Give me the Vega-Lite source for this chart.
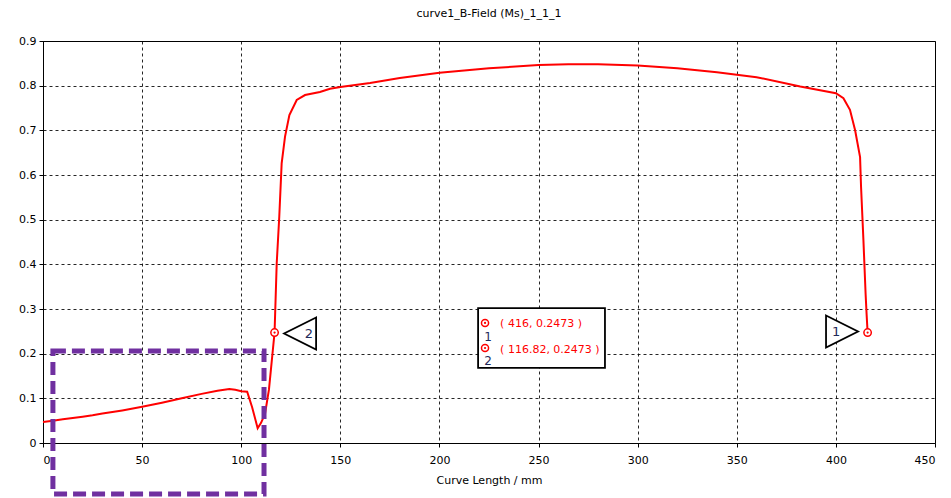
{
  "$schema": "https://vega.github.io/schema/vega-lite/v6.json",
  "autosize": "none",
  "width": 892,
  "height": 402,
  "padding": {"left": 43, "top": 41, "right": 16, "bottom": 55},
  "background": "white",
  "config": {
    "font": "DejaVu Sans",
    "view": {"stroke": "black", "strokeWidth": 1},
    "axis": {
      "domainColor": "black",
      "tickColor": "black",
      "labelColor": "black",
      "titleColor": "black",
      "labelFont": "DejaVu Sans",
      "titleFont": "DejaVu Sans",
      "labelFontSize": 11,
      "titleFontSize": 11,
      "titleFontWeight": "normal",
      "gridColor": "black",
      "gridDash": [3, 3],
      "gridOpacity": 0.85,
      "tickSize": 4
    },
    "title": {"font": "DejaVu Sans", "fontSize": 11, "fontWeight": "normal", "color": "black", "offset": 16}
  },
  "title": {"text": "curve1_B-Field (Ms)_1_1_1", "anchor": "middle"},
  "datasets": {
    "curve": [
      {"x": 0, "y": 0.047}, {"x": 5, "y": 0.05}, {"x": 10, "y": 0.053}, {"x": 20, "y": 0.059},
      {"x": 25, "y": 0.062}, {"x": 30, "y": 0.066}, {"x": 40, "y": 0.073}, {"x": 50, "y": 0.081},
      {"x": 60, "y": 0.09}, {"x": 70, "y": 0.1}, {"x": 80, "y": 0.11}, {"x": 88, "y": 0.117},
      {"x": 94, "y": 0.121}, {"x": 97, "y": 0.119}, {"x": 100, "y": 0.116}, {"x": 103, "y": 0.115},
      {"x": 105.5, "y": 0.08}, {"x": 108.3, "y": 0.033}, {"x": 110, "y": 0.045}, {"x": 112, "y": 0.065},
      {"x": 114, "y": 0.12}, {"x": 116.82, "y": 0.2473}, {"x": 117.9, "y": 0.402}, {"x": 119.2, "y": 0.507},
      {"x": 120.4, "y": 0.626}, {"x": 122.1, "y": 0.686}, {"x": 124.3, "y": 0.734}, {"x": 128, "y": 0.768},
      {"x": 132.2, "y": 0.779}, {"x": 139.7, "y": 0.786}, {"x": 144.8, "y": 0.793}, {"x": 150, "y": 0.797},
      {"x": 165, "y": 0.806}, {"x": 180, "y": 0.817}, {"x": 200, "y": 0.829}, {"x": 225, "y": 0.839},
      {"x": 250, "y": 0.846}, {"x": 265, "y": 0.848}, {"x": 280, "y": 0.848}, {"x": 300, "y": 0.845},
      {"x": 320, "y": 0.839}, {"x": 340, "y": 0.83}, {"x": 360, "y": 0.819}, {"x": 382, "y": 0.798},
      {"x": 400, "y": 0.783}, {"x": 403.8, "y": 0.772}, {"x": 407.1, "y": 0.746}, {"x": 409.7, "y": 0.7},
      {"x": 412.2, "y": 0.64}, {"x": 412.7, "y": 0.573}, {"x": 413.9, "y": 0.453}, {"x": 415, "y": 0.333},
      {"x": 415.5, "y": 0.288}, {"x": 416, "y": 0.2473}
    ],
    "markers": [
      {"x": 416, "y": 0.2473},
      {"x": 116.82, "y": 0.2473}
    ],
    "triangles": [
      {"x": 403.1, "y": 0.2496, "label": "1", "lx": 400.1, "shape": "M-1,-1L1,0L-1,1Z"},
      {"x": 129.7, "y": 0.245, "label": "2", "lx": 134.2, "shape": "M1,-1L-1,0L1,1Z"}
    ],
    "box": [{"x": 219.5, "x2": 283.5, "y": 0.302, "y2": 0.168}],
    "legend": [
      {"cx": 223, "cy": 0.2687, "tx": 230.6, "ty": 0.266, "sx": 224.5, "sy": 0.237, "text": "( 416, 0.2473 )", "sub": "1"},
      {"cx": 223, "cy": 0.2127, "tx": 230.6, "ty": 0.208, "sx": 224.5, "sy": 0.1836, "text": "( 116.82, 0.2473 )", "sub": "2"}
    ],
    "highlight": [{"x": 5, "x2": 111.5, "y": 0.206, "y2": -0.114}]
  },
  "layer": [
    {
      "data": {"name": "curve"},
      "mark": {"type": "line", "color": "#FF0000", "strokeWidth": 2, "clip": false},
      "encoding": {
        "x": {
          "field": "x", "type": "quantitative",
          "scale": {"domain": [0, 450], "nice": false},
          "axis": {
            "title": "Curve Length / mm",
            "values": [0, 50, 100, 150, 200, 250, 300, 350, 400, 450],
            "labelPadding": 7,
            "titlePadding": 9,
            "grid": true
          }
        },
        "y": {
          "field": "y", "type": "quantitative",
          "scale": {"domain": [0, 0.9], "nice": false, "zero": false},
          "axis": {
            "title": null,
            "values": [0, 0.1, 0.2, 0.3, 0.4, 0.5, 0.6, 0.7, 0.8, 0.9],
            "format": ".1~f",
            "labelPadding": 3,
            "grid": true
          }
        }
      }
    },
    {
      "data": {"name": "highlight"},
      "mark": {"type": "rect", "fill": null, "fillOpacity": 0, "stroke": "#7030A0", "strokeWidth": 5, "strokeDash": [13, 6], "clip": false},
      "encoding": {
        "x": {"field": "x", "type": "quantitative"},
        "x2": {"field": "x2"},
        "y": {"field": "y", "type": "quantitative"},
        "y2": {"field": "y2"}
      }
    },
    {
      "data": {"name": "triangles"},
      "mark": {"type": "point", "filled": false, "fill": "white", "fillOpacity": 1, "stroke": "black", "strokeWidth": 1.8, "size": 1024, "opacity": 1},
      "encoding": {
        "x": {"field": "x", "type": "quantitative"},
        "y": {"field": "y", "type": "quantitative"},
        "shape": {"field": "shape", "type": "nominal", "scale": null}
      }
    },
    {
      "data": {"name": "triangles"},
      "mark": {"type": "text", "fontSize": 13, "color": "#1f2a5a", "align": "center", "baseline": "middle"},
      "encoding": {
        "x": {"field": "lx", "type": "quantitative"},
        "y": {"field": "y", "type": "quantitative"},
        "text": {"field": "label"}
      }
    },
    {
      "data": {"name": "box"},
      "mark": {"type": "rect", "fill": "white", "stroke": "black", "strokeWidth": 1.8},
      "encoding": {
        "x": {"field": "x", "type": "quantitative"},
        "x2": {"field": "x2"},
        "y": {"field": "y", "type": "quantitative"},
        "y2": {"field": "y2"}
      }
    },
    {
      "data": {"name": "legend"},
      "mark": {"type": "point", "shape": "circle", "filled": false, "fill": "white", "fillOpacity": 1, "stroke": "#FF0000", "strokeWidth": 1.5, "size": 50},
      "encoding": {
        "x": {"field": "cx", "type": "quantitative"},
        "y": {"field": "cy", "type": "quantitative"}
      }
    },
    {
      "data": {"name": "legend"},
      "mark": {"type": "point", "shape": "circle", "filled": true, "color": "#FF0000", "opacity": 1, "size": 5},
      "encoding": {
        "x": {"field": "cx", "type": "quantitative"},
        "y": {"field": "cy", "type": "quantitative"}
      }
    },
    {
      "data": {"name": "legend"},
      "mark": {"type": "text", "fontSize": 11, "color": "#FF0000", "align": "left", "baseline": "middle"},
      "encoding": {
        "x": {"field": "tx", "type": "quantitative"},
        "y": {"field": "ty", "type": "quantitative"},
        "text": {"field": "text"}
      }
    },
    {
      "data": {"name": "legend"},
      "mark": {"type": "text", "fontSize": 12, "color": "#1f2a5a", "align": "center", "baseline": "middle"},
      "encoding": {
        "x": {"field": "sx", "type": "quantitative"},
        "y": {"field": "sy", "type": "quantitative"},
        "text": {"field": "sub"}
      }
    },
    {
      "data": {"name": "markers"},
      "mark": {"type": "point", "shape": "circle", "filled": false, "fill": "white", "fillOpacity": 1, "stroke": "#FF0000", "strokeWidth": 1.5, "size": 55},
      "encoding": {
        "x": {"field": "x", "type": "quantitative"},
        "y": {"field": "y", "type": "quantitative"}
      }
    },
    {
      "data": {"name": "markers"},
      "mark": {"type": "point", "shape": "circle", "filled": true, "color": "#FF0000", "opacity": 1, "size": 5},
      "encoding": {
        "x": {"field": "x", "type": "quantitative"},
        "y": {"field": "y", "type": "quantitative"}
      }
    }
  ]
}
